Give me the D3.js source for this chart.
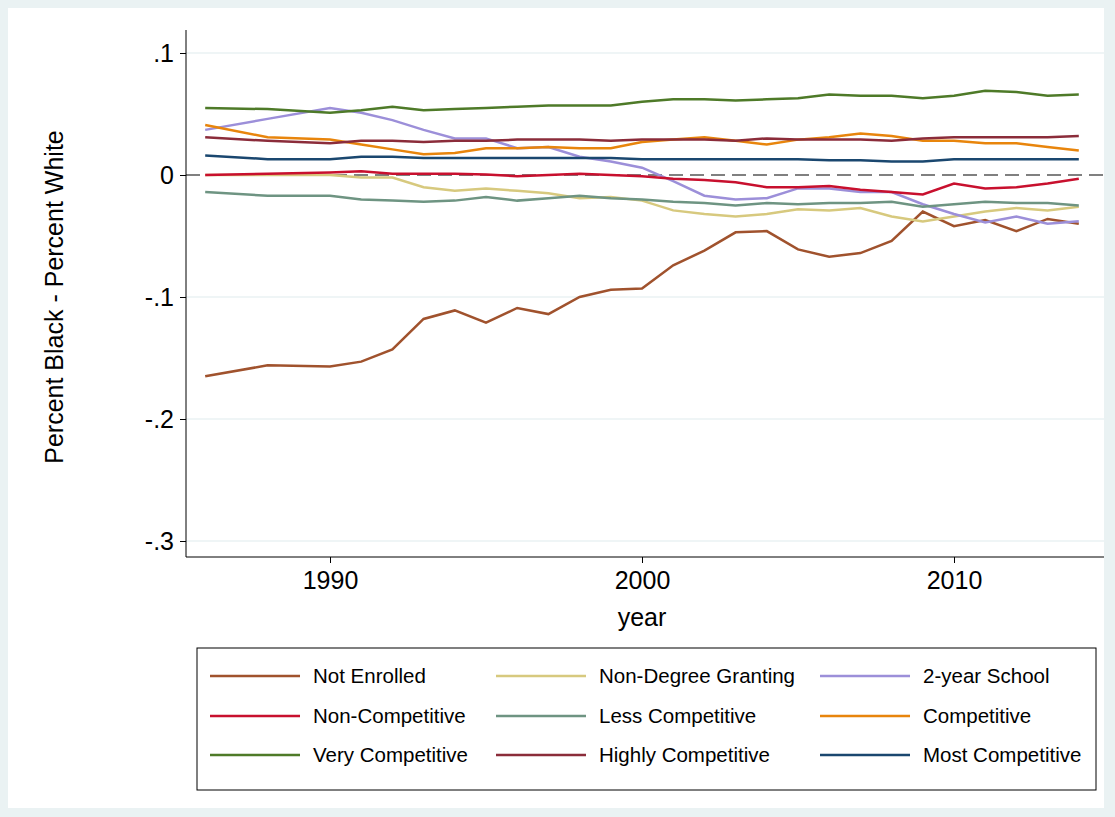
<!DOCTYPE html><html><head><meta charset="utf-8"><script src="https://cdn.jsdelivr.net/npm/d3@7"></script>
<style>body{margin:0;background:#eaf2f3}svg{display:block}</style></head><body><svg id="c" width="1115" height="817"></svg>
<script>
const years=[1986,1988,1990,1991,1992,1993,1994,1995,1996,1997,1998,1999,2000,2001,2002,2003,2004,2005,2006,2007,2008,2009,2010,2011,2012,2013,2014];
const notEnrolled=[-.165,-.156,-.157,-.153,-.143,-.118,-.111,-.121,-.109,-.114,-.100,-.094,-.093,-.074,-.062,-.047,-.046,-.061,-.067,-.064,-.054,-.030,-.042,-.037,-.046,-.036,-.040];
const nonDegree=[0,0,0,-.002,-.002,-.010,-.013,-.011,-.013,-.015,-.019,-.018,-.021,-.029,-.032,-.034,-.032,-.028,-.029,-.027,-.034,-.038,-.034,-.030,-.027,-.029,-.026];
const twoYear=[.037,.046,.055,.051,.045,.037,.030,.030,.022,.023,.015,.011,.006,-.005,-.017,-.020,-.019,-.011,-.011,-.014,-.014,-.024,-.032,-.039,-.034,-.040,-.038];
const nonComp=[0,.001,.002,.003,.001,.001,.001,.0005,-.001,0,.001,0,-.001,-.003,-.004,-.006,-.010,-.010,-.009,-.012,-.014,-.016,-.007,-.011,-.010,-.007,-.003];
const lessComp=[-.014,-.017,-.017,-.020,-.021,-.022,-.021,-.018,-.021,-.019,-.017,-.019,-.020,-.022,-.023,-.025,-.023,-.024,-.023,-.023,-.022,-.026,-.024,-.022,-.023,-.023,-.025];
const comp=[.041,.031,.029,.025,.021,.017,.018,.022,.022,.023,.022,.022,.027,.029,.031,.028,.025,.029,.031,.034,.032,.028,.028,.026,.026,.023,.020];
const veryComp=[.055,.054,.051,.053,.056,.053,.054,.055,.056,.057,.057,.057,.060,.062,.062,.061,.062,.063,.066,.065,.065,.063,.065,.069,.068,.065,.066];
const highlyComp=[.031,.028,.026,.028,.028,.027,.028,.028,.029,.029,.029,.028,.029,.029,.029,.028,.030,.029,.029,.029,.028,.030,.031,.031,.031,.031,.032];
const mostComp=[.016,.013,.013,.015,.015,.014,.014,.014,.014,.014,.014,.014,.013,.013,.013,.013,.013,.013,.012,.012,.011,.011,.013,.013,.013,.013,.013];
const seriesNames=["Not Enrolled","Non-Degree Granting","2-year School","Non-Competitive","Less Competitive","Competitive","Very Competitive","Highly Competitive","Most Competitive"];
const seriesVals=[notEnrolled,nonDegree,twoYear,nonComp,lessComp,comp,veryComp,highlyComp,mostComp];
const colors=["#a0522d","#d7c97e","#9c8fd9","#c8102e","#6e9482","#e8850c","#4e7a28","#8b2c3a","#1a476f"];
const yTicks=[.1,0,-.1,-.2,-.3],yLabels=[".1","0","-.1","-.2","-.3"],xTicks=[1990,2000,2010];
const F="Arial, Liberation Sans, sans-serif";
const svg=d3.select("#c");
svg.append("rect").attr("x",8).attr("y",8).attr("width",1096).attr("height",800).attr("fill","#fff");
const x=d3.scaleLinear().domain([1990,2010]).range([330,954]);
const y=d3.scaleLinear().domain([0,.1]).range([175,53]);
const L=186,R=1104,T=30,B=557;
yTicks.forEach(t=>{if(t!==0)svg.append("line").attr("x1",L).attr("x2",R).attr("y1",y(t)).attr("y2",y(t)).attr("stroke","#eaf2f3").attr("stroke-width",1.5);});
svg.append("line").attr("x1",L).attr("x2",R).attr("y1",y(0)).attr("y2",y(0)).attr("stroke","#808080").attr("stroke-width",2).attr("stroke-dasharray","14,7");
const ya=svg.append("g").attr("transform",`translate(${L},0)`).call(d3.axisLeft(y).tickValues(yTicks).tickFormat((d,i)=>yLabels[i]).tickSize(6).tickPadding(6));
const xa=svg.append("g").attr("transform",`translate(0,${B})`).call(d3.axisBottom(x).tickValues(xTicks).tickFormat(d3.format("d")).tickSize(6).tickPadding(8));
[ya,xa].forEach(a=>{a.select(".domain").attr("d",a===ya?`M0,${T}V${B}`:`M${L},0H${R}`).attr("stroke","#000");a.selectAll("text").attr("font-family",F).attr("font-size",25).attr("fill","#000");a.selectAll(".tick line").attr("stroke","#000");});
ya.selectAll("text").attr("dy","0.35em");
svg.append("text").attr("x",642).attr("y",626).attr("text-anchor","middle").attr("font-family",F).attr("font-size",25).text("year");
svg.append("text").attr("transform","translate(63,297) rotate(-90)").attr("text-anchor","middle").attr("font-family",F).attr("font-size",25).text("Percent Black - Percent White");
const line=d3.line().x((d,i)=>x(years[i])).y(d=>y(d));
seriesVals.forEach((v,k)=>svg.append("path").attr("d",line(v)).attr("fill","none").attr("stroke",colors[k]).attr("stroke-width",2.5));
svg.append("rect").attr("x",197).attr("y",648).attr("width",899).attr("height",142).attr("fill","#fff").attr("stroke","#000").attr("stroke-width",1);
const cx=[210,496,820],ry=[676,716,755];
seriesNames.forEach((n,k)=>{const c=k%3,r=Math.floor(k/3);
svg.append("line").attr("x1",cx[c]).attr("x2",cx[c]+90).attr("y1",ry[r]).attr("y2",ry[r]).attr("stroke",colors[k]).attr("stroke-width",2.5);
svg.append("text").attr("x",cx[c]+103).attr("y",ry[r]+7).attr("font-family",F).attr("font-size",20.5).text(n);});
</script></body></html>
